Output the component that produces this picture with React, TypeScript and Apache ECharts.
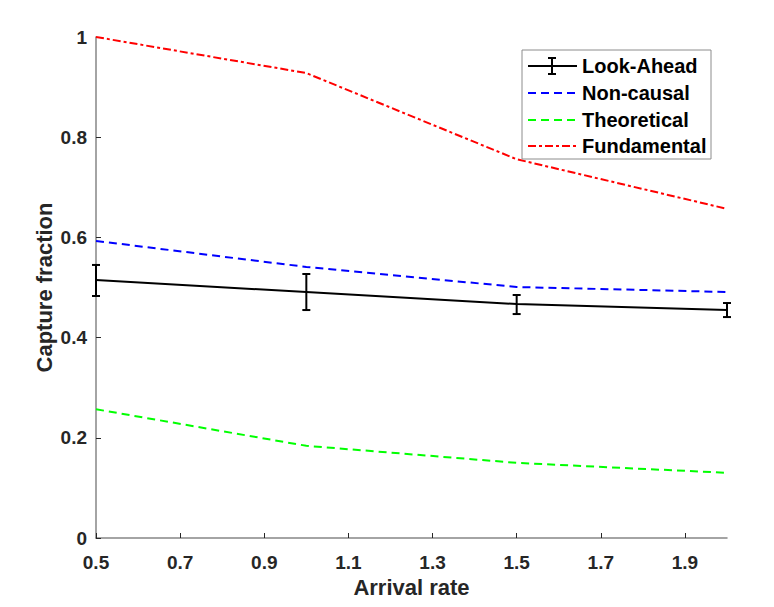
import React, { useEffect, useRef } from "react";
import * as echarts from "echarts";

const arrivalRates = [0.5, 1.0, 1.5, 2.0];
const lookAhead = [0.515, 0.491, 0.467, 0.455];
const lookAheadLow = [0.483, 0.455, 0.447, 0.441];
const lookAheadHigh = [0.545, 0.527, 0.485, 0.469];
const nonCausal = [0.593, 0.541, 0.501, 0.491];
const theoretical = [0.257, 0.184, 0.15, 0.13];
const fundamental = [1.0, 0.928, 0.756, 0.657];
const xTicks = [0.5, 0.7, 0.9, 1.1, 1.3, 1.5, 1.7, 1.9];
const legendNames = ["Look-Ahead", "Non-causal", "Theoretical", "Fundamental"];

const FONT = "'Liberation Sans', Arial, Helvetica, sans-serif";

export default function App() {
  const ref = useRef<HTMLDivElement>(null);
  useEffect(() => {
    document.body.style.margin = "0";
    const chart = echarts.init(ref.current!, null, { renderer: "svg" });
    const pair = (ys: number[]) => arrivalRates.map((x, i) => [x, ys[i]]);
    const errData = arrivalRates.map((x, i) => [x, lookAheadLow[i], lookAheadHigh[i]]);
    const axisColor = "#868686";
    const labelColor = "#262626";

    const legendX = 528;
    const legendRows = [66, 93, 120, 146];
    const legendGraphics: any[] = [
      {
        type: "rect",
        shape: { x: 522, y: 50, width: 189, height: 109 },
        style: { fill: "#fff", stroke: "#8c8c8c", lineWidth: 1 },
        z: 100,
      },
    ];
    const legendStyles = [
      { stroke: "#000", lineDash: null },
      { stroke: "#0000ff", lineDash: [8, 5] },
      { stroke: "#00ff00", lineDash: [8, 5] },
      { stroke: "#ff0000", lineDash: [8, 3, 3, 3] },
    ];
    legendNames.forEach((name, i) => {
      const y = legendRows[i];
      legendGraphics.push({
        type: "line",
        shape: { x1: legendX, y1: y, x2: legendX + 49, y2: y },
        style: { stroke: legendStyles[i].stroke, lineWidth: 2, lineDash: legendStyles[i].lineDash },
        z: 101,
      });
      if (i === 0) {
        const cx = legendX + 24;
        legendGraphics.push(
          { type: "line", shape: { x1: cx, y1: y - 8, x2: cx, y2: y + 8 }, style: { stroke: "#000", lineWidth: 2 }, z: 101 },
          { type: "line", shape: { x1: cx - 4, y1: y - 8, x2: cx + 4, y2: y - 8 }, style: { stroke: "#000", lineWidth: 2 }, z: 101 },
          { type: "line", shape: { x1: cx - 4, y1: y + 8, x2: cx + 4, y2: y + 8 }, style: { stroke: "#000", lineWidth: 2 }, z: 101 }
        );
      }
      legendGraphics.push({
        type: "text",
        x: 582,
        y: y,
        style: {
          text: name,
          fill: "#000",
          font: `bold 20px ${FONT}`,
          textVerticalAlign: "middle",
          textAlign: "left",
        },
        z: 101,
      });
    });

    chart.setOption({
      animation: false,
      backgroundColor: "#fff",
      grid: { left: 96, right: 47, top: 37, bottom: 69 },
      xAxis: {
        type: "value",
        min: 0.5,
        max: 2.0,
        name: "Arrival rate",
        nameLocation: "middle",
        nameGap: 38,
        nameTextStyle: { fontFamily: FONT, fontWeight: "bold", fontSize: 22, color: labelColor },
        axisLine: { show: true, lineStyle: { color: axisColor, width: 1.5 } },
        axisTick: { show: true, inside: true, length: 5, customValues: xTicks, lineStyle: { color: labelColor } },
        axisLabel: {
          customValues: xTicks,
          formatter: (v: number) => v.toFixed(1),
          fontFamily: FONT,
          fontWeight: "bold",
          fontSize: 19,
          color: labelColor,
          margin: 15,
        },
        splitLine: { show: false },
      },
      yAxis: {
        type: "value",
        min: 0,
        max: 1,
        interval: 0.2,
        name: "Capture fraction",
        nameLocation: "middle",
        nameGap: 41,
        nameMoveOverlap: false,
        nameTextStyle: { fontFamily: FONT, fontWeight: "bold", fontSize: 22, color: labelColor },
        axisLine: { show: true, lineStyle: { color: axisColor, width: 1.5 } },
        axisTick: { show: true, inside: true, length: 5, lineStyle: { color: labelColor } },
        axisLabel: {
          formatter: (v: number) => (v === 0 || v === 1 ? String(v) : v.toFixed(1)),
          fontFamily: FONT,
          fontWeight: "bold",
          fontSize: 19,
          color: labelColor,
          margin: 9,
        },
        splitLine: { show: false },
      },
      graphic: legendGraphics,
      series: [
        {
          name: "Fundamental",
          type: "line",
          data: pair(fundamental),
          showSymbol: false,
          lineStyle: { color: "#ff0000", width: 2, type: [8, 3, 3, 3] },
        },
        {
          name: "Non-causal",
          type: "line",
          data: pair(nonCausal),
          showSymbol: false,
          lineStyle: { color: "#0000ff", width: 2, type: [8, 5] },
        },
        {
          name: "Theoretical",
          type: "line",
          data: pair(theoretical),
          showSymbol: false,
          lineStyle: { color: "#00ff00", width: 2, type: [8, 5] },
        },
        {
          name: "Look-Ahead",
          type: "line",
          data: pair(lookAhead),
          showSymbol: false,
          lineStyle: { color: "#000", width: 2 },
          z: 5,
        },
        {
          name: "Look-Ahead error",
          type: "custom",
          data: errData,
          z: 6,
          renderItem: (params: any, api: any) => {
            const x = api.value(0);
            const lo = api.coord([x, api.value(1)]);
            const hi = api.coord([x, api.value(2)]);
            const w = 4;
            const st = { stroke: "#000", lineWidth: 2 };
            return {
              type: "group",
              children: [
                { type: "line", shape: { x1: lo[0], y1: lo[1], x2: hi[0], y2: hi[1] }, style: st },
                { type: "line", shape: { x1: lo[0] - w, y1: lo[1], x2: lo[0] + w, y2: lo[1] }, style: st },
                { type: "line", shape: { x1: hi[0] - w, y1: hi[1], x2: hi[0] + w, y2: hi[1] }, style: st },
              ],
            };
          },
        },
      ],
    });
    return () => chart.dispose();
  }, []);
  return <div ref={ref} style={{ width: 774, height: 607 }} />;
}
